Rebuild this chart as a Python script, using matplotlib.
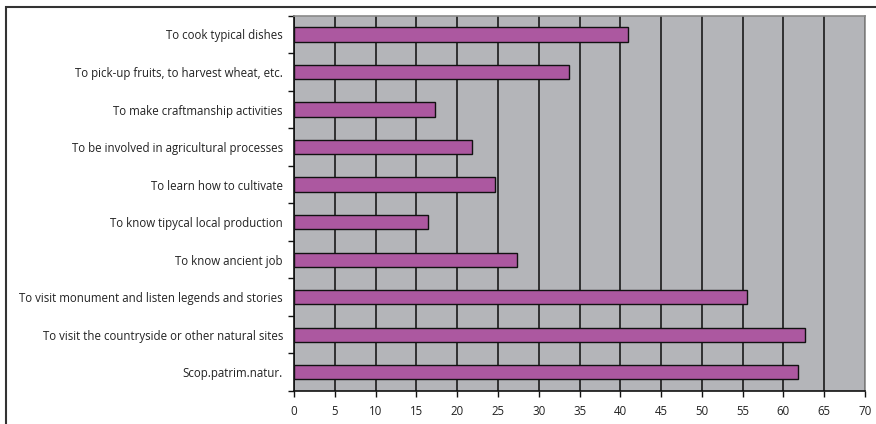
import matplotlib
matplotlib.use("Agg")
import matplotlib.pyplot as plt
from matplotlib.patches import Rectangle

categories = [
    "Scop.patrim.natur.",
    "To visit the countryside or other natural sites",
    "To visit monument and listen legends and stories",
    "To know ancient job",
    "To know tipycal local production",
    "To learn how to cultivate",
    "To be involved in agricultural processes",
    "To make craftmanship activities",
    "To pick-up fruits, to harvest wheat, etc.",
    "To cook typical dishes",
]
values = [61.8, 62.7, 55.5, 27.3, 16.4, 24.6, 21.8, 17.3, 33.7, 40.9]
xticks = list(range(0, 75, 5))

plt.rcParams['font.family'] = ['Open Sans', 'DejaVu Sans']

fig = plt.figure(figsize=(8.76, 4.24), dpi=100)
fig.patch.set_facecolor('white')
ax = fig.add_axes([294/876, 1-391/424, (865-294)/876, (391-15.7)/424])
ax.set_facecolor('#B4B5B9')

y = list(range(len(categories)))
ax.barh(y, values, height=0.38, color='#AC58A0', edgecolor='#111111', linewidth=1.0, zorder=3)

ax.set_xlim(0, 70)
ax.set_ylim(-0.5, len(categories) - 0.5)
ax.set_xticks(xticks)
ax.set_xticklabels([str(t) for t in xticks], fontsize=8.3, color='#222222')
ax.set_yticks(y)
ax.set_yticklabels(categories, fontsize=8.3, color='#222222')
ax.tick_params(axis='y', length=0, pad=8)
ax.set_yticks([i - 0.5 for i in range(len(categories) + 1)], minor=True)
ax.tick_params(axis='y', which='minor', length=4, width=1, color='#111111', direction='out')
ax.tick_params(axis='x', length=4, width=1, color='#111111', direction='out', pad=6)

ax.grid(axis='x', color='#1a1a1a', linewidth=1.2, zorder=1)
ax.set_axisbelow(True)

for s in ['left', 'bottom']:
    ax.spines[s].set_color('#111111')
    ax.spines[s].set_linewidth(1.2)
for s in ['top', 'right']:
    ax.spines[s].set_color('#8a8a8a')
    ax.spines[s].set_linewidth(1.2)

# outer chart border (top and left visible, rest off-image)
fig.patches.append(Rectangle((6/876, -0.1), 1.1, 1 - 7/424 + 0.1, transform=fig.transFigure,
                             fill=False, edgecolor='#333333', linewidth=1.5, zorder=0))

fig.savefig('out.png', dpi=100)
